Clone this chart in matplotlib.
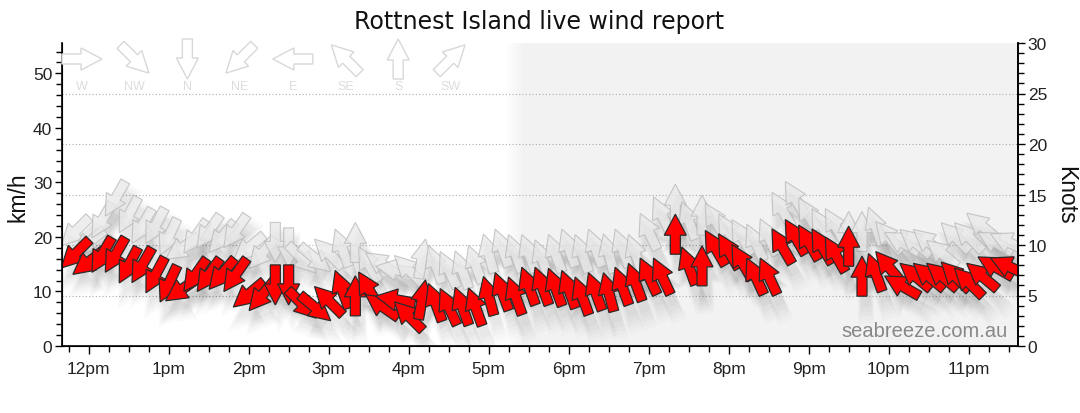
import matplotlib
matplotlib.use('Agg')
import matplotlib.pyplot as plt
from matplotlib.patches import Polygon
import matplotlib.transforms as mtransforms
from matplotlib.colors import LinearSegmentedColormap
import numpy as np

# ---------------- data ----------------
times = ["11:50", "12:00", "12:10", "12:20", "12:30", "12:40", "12:50",
         "13:00", "13:10", "13:20", "13:30", "13:40", "13:50",
         "14:00", "14:10", "14:20", "14:30", "14:40", "14:50",
         "15:00", "15:10", "15:20", "15:30", "15:40", "15:50",
         "16:00", "16:10", "16:20", "16:30", "16:40", "16:50",
         "17:00", "17:10", "17:20", "17:30", "17:40", "17:50",
         "18:00", "18:10", "18:20", "18:30", "18:40", "18:50",
         "19:00", "19:10", "19:20", "19:30", "19:40", "19:50",
         "20:00", "20:10", "20:20", "20:30", "20:40", "20:50",
         "21:00", "21:10", "21:20", "21:30", "21:40", "21:50",
         "22:00", "22:10", "22:20", "22:30", "22:40", "22:50",
         "23:00", "23:10", "23:20", "23:30"]

avg_kmh = [16.9, 15.4, 16.7, 16.7, 14.8, 14.8, 13.0,
           11.4, 10.4, 13.0, 13.0, 13.2, 13.0,
           9.5, 9.3, 11.2, 11.2, 7.7, 7.0,
           8.3, 10.4, 9.2, 10.4, 7.3, 8.5,
           5.5, 8.5, 8.0, 7.2, 7.3, 7.2,
           9.2, 10.0, 9.2, 11.0, 11.0, 10.8,
           10.4, 9.2, 10.0, 9.9, 11.0, 11.7,
           12.8, 12.8, 20.5, 14.7, 14.7, 18.0,
           17.4, 15.4, 12.8, 12.8, 18.3, 20.0,
           19.0, 18.3, 16.8, 18.3, 12.8, 13.5,
           14.5, 11.0, 12.8, 12.8, 12.8, 12.8,
           11.7, 12.8, 14.5, 14.6]

gust_kmh = [21, 19, 23, 27, 24, 22, 22,
            20, 18, 20, 21, 20, 21,
            18, 17, 19, 18, 16, 16,
            17, 18, 19, 15, 15, 14,
            14, 16, 15, 14, 14, 15,
            17, 18, 17, 17, 16, 17,
            18, 17, 18, 17, 18, 17,
            21, 24, 26, 23, 24, 23,
            21, 20, 19, 20, 25, 27,
            24, 22, 22, 21, 21, 22,
            20, 19, 19, 19, 17, 20,
            20, 22, 19, 19]

# direction the wind comes from, degrees
wind_from = [45, 52, 30, 30, 28, 30, 28,
             25, 55, 35, 35, 40, 35,
             50, 40, 0, 0, 315, 310,
             135, 160, 180, 150, 125, 100,
             135, 190, 160, 155, 160, 160,
             165, 160, 160, 160, 160, 160,
             160, 160, 160, 165, 160, 160,
             155, 155, 180, 160, 180, 150,
             150, 150, 155, 155, 150, 150,
             150, 150, 150, 180, 180, 160,
             140, 120, 130, 130, 130, 135,
             135, 130, 120, 115]

legend_names = ["W", "NW", "N", "NE", "E", "SE", "S", "SW"]
legend_from = [270, 315, 0, 45, 90, 135, 180, 225]

hour_ticks = [12, 13, 14, 15, 16, 17, 18, 19, 20, 21, 22, 23]
hour_labels = ["12pm", "1pm", "2pm", "3pm", "4pm", "5pm", "6pm",
               "7pm", "8pm", "9pm", "10pm", "11pm"]
title = "Rottnest Island live wind report"
KMH_PER_KNOT = 1.852
night_start = 17.2
# --------------------------------------

def to_hours(s):
    h, m = s.split(":")
    return int(h) + int(m) / 60.0

t_hours = [to_hours(s) for s in times]

W, H, DPI = 1080, 414, 100
fig = plt.figure(figsize=(W / DPI, H / DPI), dpi=DPI)
fig.patch.set_facecolor('white')
ax = fig.add_axes([62 / W, 67 / H, 956 / W, 303 / H])
xmin, xmax = 11 + 40 / 60, 23 + 37 / 60
ymax_kmh = 30 * KMH_PER_KNOT

ARROW = np.array([[0, 20], [11, -1], [5, -1], [5, -20], [-5, -20], [-5, -1], [-11, -1]], float)


def arrow_tr(bearing, anchor, scale=1.0, dx=0.0, dy=0.0):
    return (mtransforms.Affine2D().scale(scale).rotate_deg(-bearing).translate(dx, dy)
            .scale(1.0 / DPI) + fig.dpi_scale_trans + anchor)


# night shading
cmap = LinearSegmentedColormap.from_list('n', ['#ffffff', '#f2f2f2'])
ax.imshow(np.linspace(0, 1, 64).reshape(1, -1), cmap=cmap, aspect='auto',
          extent=[night_start, night_start + 0.25, 0, ymax_kmh], zorder=0,
          interpolation='bilinear')
ax.axvspan(night_start + 0.25, xmax + 1, color='#f2f2f2', lw=0, zorder=0)

# dotted knot grid
for k in [5, 10, 15, 20, 25]:
    ax.axhline(k * KMH_PER_KNOT, color='#aaaaaa', lw=0.8, ls=(0, (1, 2)), zorder=1)

SHADOW_LAYERS = [(1.0, 0.022, 0), (1.15, 0.02, -2), (1.3, 0.018, -3), (1.45, 0.016, -4), (1.6, 0.014, -5)]


def draw_arrows(values, face, edge, alpha, z, lw):
    for t, v, d in zip(t_hours, values, wind_from):
        anchor = mtransforms.ScaledTranslation(t, v, ax.transData)
        b = (d + 180) % 360
        for s, a, extra in SHADOW_LAYERS:
            ax.add_patch(Polygon(ARROW, closed=True, transform=arrow_tr(b, anchor, s, 4, -11 + extra),
                                 facecolor='black', edgecolor='none', alpha=a, zorder=z))
    for t, v, d in zip(t_hours, values, wind_from):
        anchor = mtransforms.ScaledTranslation(t, v, ax.transData)
        b = (d + 180) % 360
        ax.add_patch(Polygon(ARROW, closed=True, transform=arrow_tr(b, anchor),
                             facecolor=face, edgecolor=edge, lw=lw, alpha=alpha, zorder=z + 0.5))


draw_arrows(gust_kmh, '#e8e8e8', '#b8b8b8', 0.75, 2, 0.8)
draw_arrows(avg_kmh, '#ff0000', '#2a2a2a', 1.0, 4, 0.9)

ax.set_xlim(xmin, xmax)
ax.set_ylim(0, ymax_kmh)

# axes styling
ax.spines['top'].set_visible(False)
for sp in ['left', 'bottom', 'right']:
    ax.spines[sp].set_linewidth(1.2)
    ax.spines[sp].set_color('black')

tick_font = dict(family='Liberation Sans', size=12.5)
ax.set_xticks(hour_ticks)
ax.set_xticklabels(hour_labels, **tick_font, color='#222222')
ax.set_xticks(np.arange(11.75, 23.7, 0.25), minor=True)
ax.set_yticks([0, 10, 20, 30, 40, 50])
ax.set_yticklabels(['0', '10', '20', '30', '40', '50'], **tick_font, color='#222222')
ax.set_yticks(np.arange(0, 55, 2), minor=True)
ax.tick_params(axis='x', which='major', length=6, width=1, pad=5)
ax.tick_params(axis='x', which='minor', length=4, width=1)
ax.tick_params(axis='y', which='major', length=5, width=1, pad=2)
ax.tick_params(axis='y', which='minor', length=4, width=1)

ax2 = ax.twinx()
ax2.set_ylim(0, 30)
ax2.spines['top'].set_visible(False)
ax2.spines['right'].set_linewidth(1.2)
ax2.set_yticks([0, 5, 10, 15, 20, 25, 30])
ax2.set_yticklabels(['0', '5', '10', '15', '20', '25', '30'], **tick_font, color='#222222')
ax2.set_yticks(np.arange(0, 31, 1), minor=True)
ax2.tick_params(axis='y', which='major', length=5, width=1, pad=2)
ax2.tick_params(axis='y', which='minor', length=4, width=1)

# watermark
ax.text(0.9895, 0.033, 'seabreeze.com.au', transform=ax.transAxes, ha='right', va='baseline',
        fontsize=14.5, family='Liberation Sans', color='#888888', zorder=10)

# direction legend
for i, (name, d) in enumerate(zip(legend_names, legend_from)):
    px = 82 + 52.7 * i
    py = H - 60
    anchor = mtransforms.ScaledTranslation(px / DPI, py / DPI, fig.dpi_scale_trans)
    fig.patches.append(Polygon(ARROW, closed=True, transform=arrow_tr((d + 180) % 360, anchor),
                               facecolor='white', edgecolor='#d8d8d8', lw=1.0, zorder=6))
    fig.text(px / W, 1 - 87 / H, name, ha='center', va='center', fontsize=9,
             family='Liberation Sans', color='#dcdcdc')

# titles and labels
fig.text(539 / W, 1 - 22 / H, title, ha='center', va='center', fontsize=17,
         family='DejaVu Sans', color='#111111')
fig.text(18 / W, 1 - 197 / H, 'km/h', rotation=90, ha='center', va='center',
         fontsize=16.5, family='Liberation Sans', color='#111111')
fig.text(1066 / W, 1 - 195 / H, 'Knots', rotation=270, ha='center', va='center',
         fontsize=16.5, family='Liberation Sans', color='#111111')

fig.savefig('out.png', dpi=DPI, facecolor='white')
